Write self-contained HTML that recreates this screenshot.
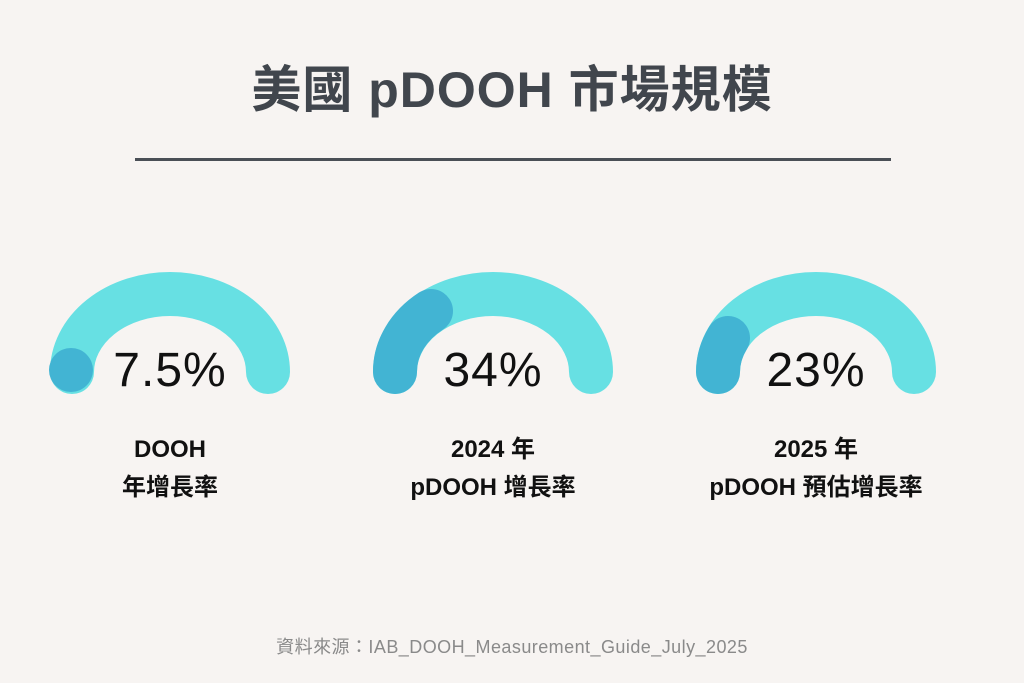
<!DOCTYPE html>
<html><head><meta charset="utf-8"><style>
html,body{margin:0;padding:0;background:#f7f4f2;}
body{width:1024px;height:683px;position:relative;overflow:hidden;font-family:"Liberation Sans","Noto Sans CJK TC",sans-serif;}
.t{position:absolute;left:0;width:1024px;text-align:center;}
.l{top:431px;font-size:24px;font-weight:bold;color:#111;line-height:38px;}
</style></head><body>
<div class="t" style="top:56px;font-size:50px;font-weight:bold;color:#41464d;line-height:68px;letter-spacing:1px;">美國 pDOOH 市場規模</div>
<div style="position:absolute;left:135px;top:158px;width:756px;height:3px;background:#4a4f56;"></div>
<svg width="1024" height="683" style="position:absolute;left:0;top:0" font-family="Liberation Sans, sans-serif">
<g fill="none" stroke-linecap="round" stroke-width="44">
<path d="M72 372 A98 78 0 0 1 268 372" stroke="#67e0e3"/>
<path d="M395 372 A98 78 0 0 1 591 372" stroke="#67e0e3"/>
<path d="M718 372 A98 78 0 0 1 914 372" stroke="#67e0e3"/>
<path d="M395 372 A98 78 0 0 1 431 311" stroke="#42b4d3"/>
<path d="M718 372 A98 78 0 0 1 728 338" stroke="#42b4d3"/>
</g>
<circle cx="71" cy="370" r="22" fill="#42b4d3"/>
<g font-size="48" fill="#111" text-anchor="middle" letter-spacing="1">
<text x="170" y="386">7.5%</text>
<text x="493" y="386">34%</text>
<text x="816" y="386">23%</text>
</g>
</svg>
<div class="t l" style="left:-342px;">DOOH<br>年增長率</div>
<div class="t l" style="left:-19px;">2024 年<br>pDOOH 增長率</div>
<div class="t l" style="left:304px;">2025 年<br>pDOOH 預估增長率</div>
<div class="t" style="top:633px;font-size:18px;letter-spacing:0.45px;color:#8a8a8a;">資料來源：IAB_DOOH_Measurement_Guide_July_2025</div>
</body></html>
